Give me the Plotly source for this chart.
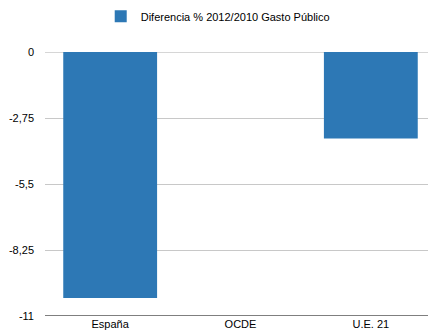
import plotly.graph_objects as go

paises = ["España", "OCDE", "U.E. 21"]
diferencia = [-10.25, 0, -3.6]
tick_vals = [0, -2.75, -5.5, -8.25, -11]
tick_text = ["0", "-2,75", "-5,5", "-8,25", "-11"]

fig = go.Figure()
fig.add_trace(go.Bar(
    x=paises,
    y=diferencia,
    name="Diferencia % 2012/2010 Gasto Público",
    marker=dict(color="#2d78b5", line=dict(width=0)),
    showlegend=True,
))

# la página tiene 8px de margen en el body, así que la figura es algo más pequeña
fig.update_layout(
    width=428,
    height=325,
    margin=dict(l=37, r=0, t=44, b=17, autoexpand=False),
    paper_bgcolor="white",
    plot_bgcolor="white",
    font=dict(family="Liberation Sans, Arial, sans-serif", size=11, color="black"),
    bargap=0.28,
    showlegend=True,
    legend=dict(orientation="h", x=0.49, xanchor="center", xref="container",
                y=1.135, yanchor="middle", yref="paper", font=dict(size=11)),
    xaxis=dict(showgrid=False, showline=False, ticks="", tickfont=dict(size=11)),
    yaxis=dict(
        range=[-11, 0],
        tickvals=tick_vals,
        ticktext=tick_text,
        showgrid=True,
        gridcolor="#c8c8c8",
        gridwidth=1,
        zeroline=False,
        showline=False,
        ticks="",
        ticklabelstandoff=10,
        tickfont=dict(size=11),
    ),
    shapes=[
        dict(type="line", xref="paper", yref="y", x0=0, x1=1, y0=0, y1=0,
             layer="below", line=dict(color="#c8c8c8", width=1.5)),
        dict(type="line", xref="paper", yref="y", x0=0, x1=1, y0=-11, y1=-11,
             line=dict(color="#555555", width=1.5)),
    ],
)

fig.write_html("out.html")
